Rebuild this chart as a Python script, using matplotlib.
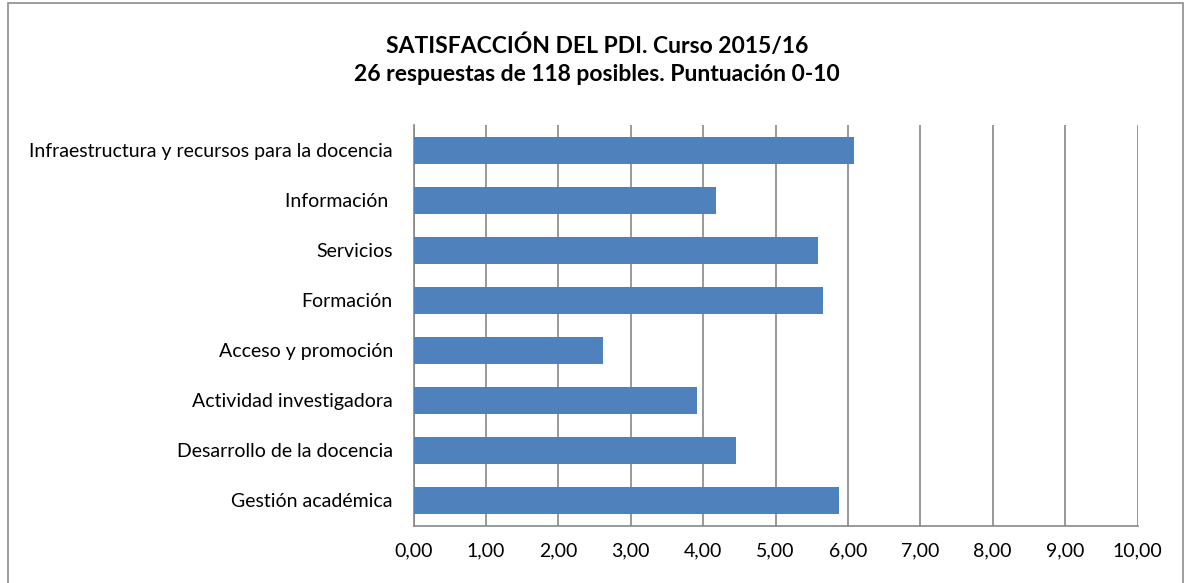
import matplotlib
matplotlib.use("Agg")
import matplotlib.pyplot as plt
from matplotlib.patches import Rectangle

categories = [
    "Gestión académica",
    "Desarrollo de la docencia",
    "Actividad investigadora",
    "Acceso y promoción",
    "Formación",
    "Servicios",
    "Información ",
    "Infraestructura y recursos para la docencia",
]
values = [5.87, 4.45, 3.92, 2.62, 5.66, 5.58, 4.18, 6.08]
xticks = [0, 1, 2, 3, 4, 5, 6, 7, 8, 9, 10]
xtick_labels = ["0,00", "1,00", "2,00", "3,00", "4,00", "5,00", "6,00", "7,00", "8,00", "9,00", "10,00"]
title = "SATISFACCIÓN DEL PDI. Curso 2015/16\n26 respuestas de 118 posibles. Puntuación 0-10"

W, H = 1191, 583
fig = plt.figure(figsize=(W / 100, H / 100), dpi=100)
plt.rcParams['font.family'] = ['Lato', 'DejaVu Sans']

# outer frame
fig.patches.append(Rectangle((8 / W, -0.01), (1183 - 8) / W, (H - 3) / H + 0.01,
                             transform=fig.transFigure, fill=False,
                             edgecolor="#8c8c8c", linewidth=1.2))

left, right, top, bottom = 413.7, 1137.5, 125, 525.5
ax = fig.add_axes([left / W, 1 - bottom / H, (right - left) / W, (bottom - top) / H])

y = list(range(len(categories)))
ax.barh(y, values, height=0.54, color="#4F81BD", zorder=3)
ax.set_xlim(0, 10)
ax.set_ylim(-0.5, len(categories) - 0.5)
ax.set_xticks(xticks)
ax.set_xticklabels(xtick_labels, fontsize=14)
ax.set_yticks(y)
ax.set_yticklabels(categories, fontsize=14)
ax.grid(axis="x", color="#878787", linewidth=1.2, zorder=0)
for s in ["top", "right"]:
    ax.spines[s].set_visible(False)
for s in ["left", "bottom"]:
    ax.spines[s].set_color("#878787")
    ax.spines[s].set_linewidth(1.2)
ax.tick_params(axis="x", length=0, pad=12)
ax.tick_params(axis="y", length=0, pad=15)

fig.text(597 / W, 1 - 60 / H, title, ha="center", va="center",
         fontsize=16.5, fontweight="bold", linespacing=1.4)

fig.savefig("out.png", dpi=100)
